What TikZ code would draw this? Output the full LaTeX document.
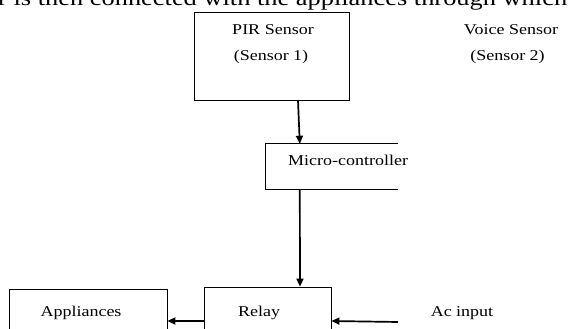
\documentclass[tikz,border=0pt]{standalone}
\usepackage{fontspec}
\setmainfont{Liberation Serif}
\usetikzlibrary{arrows.meta}

\tikzset{
  box/.style={draw, line width=0.8pt, inner sep=0pt},
  lbl/.style={font=\fontsize{15}{18}\selectfont, xscale=1.2, inner sep=0pt},
  arr/.style={-{Triangle[length=8pt,width=7pt]}, line width=1.7pt},
}

\begin{document}
\begin{tikzpicture}[x=1pt,y=-1pt]
    \useasboundingbox (0,0) rectangle (574,329);
    \clip (0,0) rectangle (574,329);
    % cut-off line of text above the figure
    \node[font=\fontsize{22}{26}\selectfont, xscale=1.2, anchor=base west, inner sep=0pt] (topline) at (-2,5.5) {r is then connected with the appliances through which};

    \node[box, minimum width=155pt, minimum height=88pt] (pir) at (271.5,56) {};
    \node[lbl] (pirname) at (273,30) {PIR Sensor};
    \node[lbl] (pirid) at (271,57) {(Sensor 1)};

    \node[lbl] (voice) at (511,30) {Voice Sensor};
    \node[lbl] (voiceid) at (507.5,57) {(Sensor 2)};

    \node[inner sep=0pt, minimum width=132pt, minimum height=45pt] (micro) at (332,166.5) {};
    \draw[box] (micro.north east) -- (micro.north west) -- (micro.south west) -- (micro.south east);
    \node[lbl] (microname) at (348,160) {Micro-controller};

    \node[box, minimum width=127pt, minimum height=68pt] (relay) at (267.5,321) {};
    \node[lbl] (relayname) at (259,313) {Relay};

    \node[box, minimum width=158pt, minimum height=64pt] (appl) at (88,321) {};
    \node[lbl] (applname) at (81,313) {Appliances};

    \node[lbl] (acname) at (462,313) {Ac input};
    \coordinate (acin) at (398,322);

    \draw[arr] ([xshift=26.5pt]pir.south) -- ([xshift=34pt]micro.north west);
    \draw[arr] ([xshift=34pt]micro.south west) -- ([xshift=32.5pt]relay.north);
    \draw[arr] (relay.west) -- (appl.east);
    \draw[arr] (acin) -- (relay.east);
\end{tikzpicture}
\end{document}
